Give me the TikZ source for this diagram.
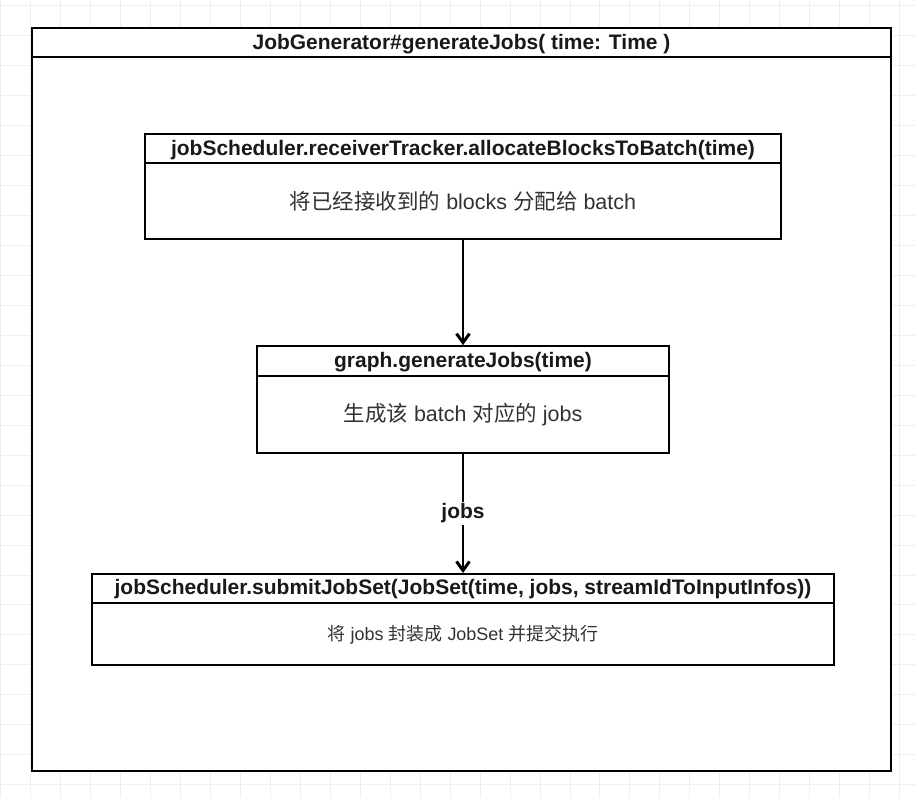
\documentclass[tikz,border=0pt]{standalone}
\usepackage{fontspec}
\setmainfont{Liberation Sans}
\newfontfamily\cjk{Noto Sans CJK SC}
\usetikzlibrary{arrows.meta}
\definecolor{gridgray}{RGB}{238,238,238}
\definecolor{txtgray}{RGB}{25,25,25}
\definecolor{bodygray}{RGB}{50,50,50}

\begin{document}
\begin{tikzpicture}[x=1pt,y=-1pt,
  panel/.style={draw=black,line width=1.8pt,fill=white,rectangle,inner sep=0pt},
  headtext/.style={font=\fontsize{21}{24}\selectfont\bfseries,text=txtgray},
  bodytext/.style={font=\fontsize{21.5}{24}\selectfont,text=bodygray},
  smalltext/.style={font=\fontsize{18}{21}\selectfont,text=bodygray},
  arr/.style={line width=3pt,-{Straight Barb[length=9pt,width=13pt]}}]
% ==========================================
% background grid
\fill[white] (0,0) rectangle (915,798);
\foreach \gx in {0,30,...,900} \draw[gridgray,line width=0.8pt] (\gx,0) -- (\gx,798);
\foreach \gy in {5,35,...,785} \draw[gridgray,line width=0.8pt] (0,\gy) -- (915,\gy);
% ==========================================
% outer frame
\node[panel,minimum width=859pt,minimum height=743pt] (frame) at (461.5,399.5) {};
\draw[line width=2pt] ([yshift=-30pt]frame.north west) -- ([yshift=-30pt]frame.north east);
\node[headtext] (frametitle) at ([yshift=-16.5pt]frame.north) {JobGenerator\#generateJobs( time: Time )};
%
% allocate blocks
\node[panel,minimum width=636pt,minimum height=105pt] (alloc) at (463,186.5) {};
\draw[line width=2pt] ([yshift=-30pt]alloc.north west) -- ([yshift=-30pt]alloc.north east);
\node[headtext] (alloctitle) at ([yshift=-16.5pt]alloc.north) {jobScheduler.receiverTracker.allocateBlocksToBatch(time)};
\node[bodytext] (allocbody) at ([yshift=-15pt]alloc.center) {{\cjk 将已经接收到的} blocks {\cjk 分配给} batch};
%
% generate jobs
\node[panel,minimum width=412pt,minimum height=107pt] (gen) at (463,399.5) {};
\draw[line width=2pt] ([yshift=-31pt]gen.north west) -- ([yshift=-31pt]gen.north east);
\node[headtext] (gentitle) at ([yshift=-16.5pt]gen.north) {graph.generateJobs(time)};
\node[bodytext] (genbody) at ([yshift=-15.5pt]gen.center) {{\cjk 生成该} batch {\cjk 对应的} jobs};
%
% submit job set
\node[panel,minimum width=742pt,minimum height=91pt] (submit) at (463,619.5) {};
\draw[line width=2pt] ([yshift=-30pt]submit.north west) -- ([yshift=-30pt]submit.north east);
\node[headtext] (submittitle) at ([yshift=-16.5pt]submit.north) {jobScheduler.submitJobSet(JobSet(time, jobs, streamIdToInputInfos))};
\node[smalltext] (submitbody) at ([yshift=-15pt]submit.center) {{\cjk 将} jobs {\cjk 封装成} JobSet {\cjk 并提交执行}};
%
% connectors
\draw[arr] (alloc.south) -- (gen.north);
\draw[arr] (gen.south) -- node[fill=white,headtext,inner sep=2pt] (jobslabel) {jobs} (submit.north);
% ==========================================
\end{tikzpicture}
\end{document}
